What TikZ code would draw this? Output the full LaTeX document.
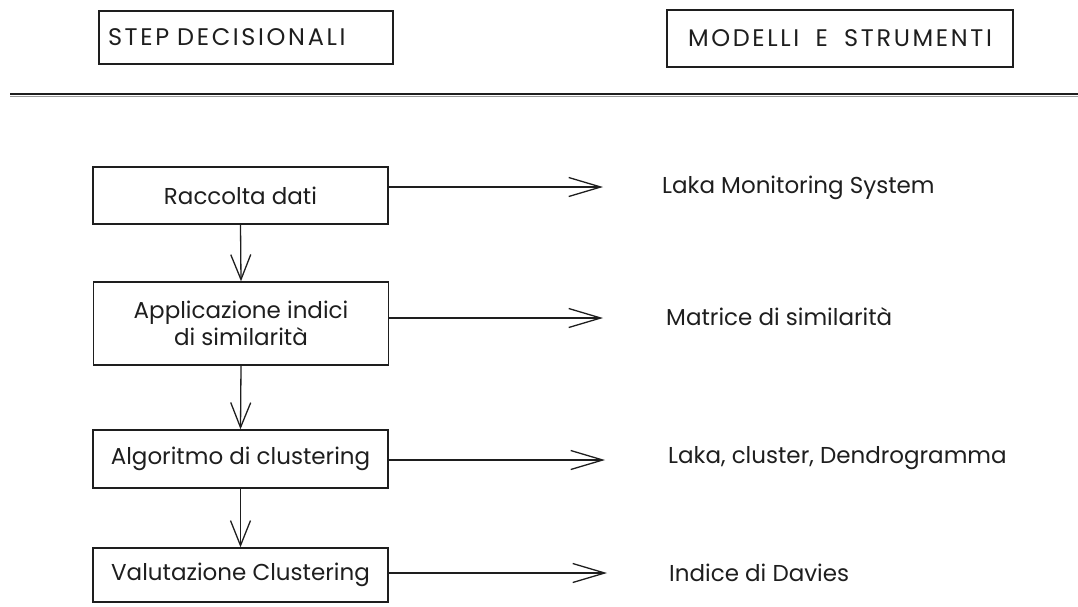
\documentclass[tikz,border=0pt]{standalone}
\usepackage{fontspec}
\setmainfont{Poppins}
\newfontfamily\capsfont[LetterSpace=11, WordSpace=1.8]{Poppins}
\usetikzlibrary{arrows.meta}
\definecolor{ink}{HTML}{1E1E1E}
\begin{document}
\begin{tikzpicture}[x=1pt, y=-1pt,
  txt/.style={font=\fontsize{23}{27}\selectfont, text=ink},
  headtxt/.style={font=\capsfont\fontsize{24}{28}\selectfont, text=ink},
  headbox/.style={draw=ink, line width=1.4pt, inner ysep=0pt, headtxt},
  stepbox/.style={draw=ink, line width=1.4pt, minimum width=295pt, inner sep=0pt, align=center, txt},
  tool/.style={anchor=west, inner sep=0pt, txt},
  flow/.style={draw=ink, line width=1.3pt, -{Straight Barb[length=25pt, width=20pt]}},
  link/.style={draw=ink, line width=1.3pt, -{Straight Barb[length=32pt, width=19pt]}}
]
\useasboundingbox (0,0) rectangle (1078,606);

% column headers
\node[headbox, text width=276pt, inner xsep=9pt, align=left, minimum height=53pt] (hA) at (246,37.5) {STEP DECISIONALI};
\node[headbox, minimum width=346pt, minimum height=57pt, align=center] (hB) at (840,38.5) {MODELLI E STRUMENTI};

% rule under the headers
\coordinate (r1) at (10,94);
\coordinate (r2) at (1078,94);
\draw[ink, line width=1.5pt] (r1) -- (r2);
\draw[ink!45, line width=0.8pt] ([yshift=-2.5pt]r1) -- ([yshift=-2.5pt]r2);

% decision steps
\node[stepbox, minimum height=57pt] (s1) at (240.5,195.5) {Raccolta dati};
\node[stepbox, minimum height=83pt] (s2) at (241,323.5) {Applicazione indici\\di similarità};
\node[stepbox, minimum height=58pt] (s3) at (240.5,459) {Algoritmo di clustering};
\node[stepbox, minimum height=54pt] (s4) at (240.5,575) {Valutazione Clustering};

% models and tools
\node[tool] (m1) at (662,188) {Laka Monitoring System};
\node[tool] (m2) at (666,317) {Matrice di similarità};
\node[tool] (m3) at (668,458) {Laka, cluster, Dendrogramma};
\node[tool] (m4) at (669,573) {Indice di Davies};

% vertical flow
\draw[flow] (s1.south) -- (s2.north);
\draw[flow] (s2.south) -- (s3.north);
\draw[flow] (s3.south) -- (s4.north);

% step -> tool arrows
\coordinate (t1) at (603,187);
\coordinate (t2) at (603,318);
\coordinate (t3) at (605,460);
\coordinate (t4) at (607,573);
\draw[link] (s1.east |- t1) -- (t1);
\draw[link] (s2.east |- t2) -- (t2);
\draw[link] (s3.east |- t3) -- (t3);
\draw[link] (s4.east |- t4) -- (t4);
\end{tikzpicture}
\end{document}
